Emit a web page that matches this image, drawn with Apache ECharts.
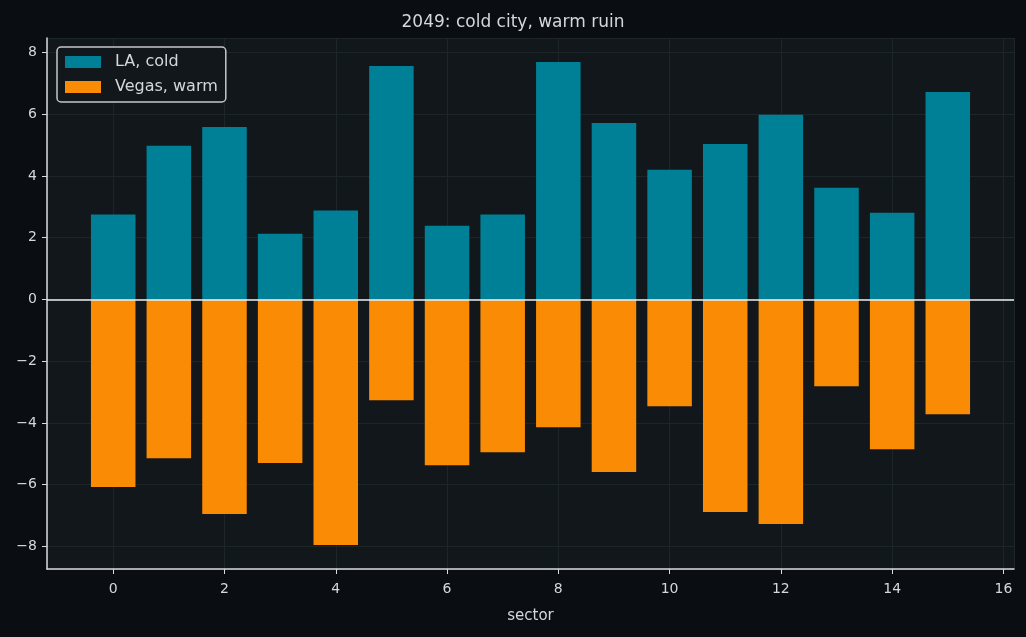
<!DOCTYPE html>
<html>
<head>
<meta charset="utf-8">
<title>2049: cold city, warm ruin</title>
<script src="https://cdn.jsdelivr.net/npm/echarts@6/dist/echarts.min.js"></script>
<style>
  html, body { margin: 0; padding: 0; background: #0a0e12; }
  #main { width: 1026px; height: 637px; }
</style>
</head>
<body>
<div id="main"></div>
<script>
// data
var sectors = [0, 1, 2, 3, 4, 5, 6, 7, 8, 9, 10, 11, 12, 13, 14, 15];
var laCold = [2.75, 4.98, 5.59, 2.13, 2.88, 7.56, 2.39, 2.75, 7.69, 5.72, 4.20, 5.04, 5.98, 3.62, 2.81, 6.72];
var vegasWarm = [-6.07, -5.14, -6.95, -5.30, -7.95, -3.26, -5.37, -4.95, -4.14, -5.59, -3.46, -6.88, -7.27, -2.81, -4.85, -3.72];

var textColor = '#d4d8da';
var fontFam = 'DejaVu Sans';

function pairs(vals) {
  return sectors.map(function (s, i) { return [s, vals[i]]; });
}

// bars are 0.8 wide in data units, drawn through the axes
function barItem(params, api) {
  var x = api.value(0), y = api.value(1);
  var p1 = api.coord([x - 0.4, y]);
  var p2 = api.coord([x + 0.4, 0]);
  return {
    type: 'rect',
    shape: {
      x: p1[0], y: Math.min(p1[1], p2[1]),
      width: p2[0] - p1[0], height: Math.abs(p2[1] - p1[1])
    },
    style: api.style()
  };
}

var myChart = echarts.init(document.getElementById('main'));

var option = {
  backgroundColor: '#0a0e12',
  animation: false,
  textStyle: { fontFamily: fontFam },
  title: {
    text: '2049: cold city, warm ruin',
    left: 'center',
    top: 9,
    textStyle: { color: textColor, fontSize: 17, fontWeight: 'normal', fontFamily: fontFam }
  },
  legend: {
    orient: 'vertical',
    left: 57,
    top: 47,
    itemWidth: 36,
    itemHeight: 12,
    itemGap: 9,
    padding: [7, 8, 7, 8],
    backgroundColor: '#12171b',
    borderColor: '#c4c8ca',
    borderWidth: 1.5,
    borderRadius: 4,
    icon: 'rect',
    textStyle: { color: textColor, fontSize: 16, fontFamily: fontFam, padding: [0, 0, 0, 9] },
    data: ['LA, cold', 'Vegas, warm']
  },
  grid: {
    left: 47, right: 12, top: 38, bottom: 68,
    show: true,
    backgroundColor: '#12171b',
    borderWidth: 0
  },
  xAxis: {
    type: 'value',
    min: -1.19,
    max: 16.19,
    splitNumber: 8,
    minInterval: 2,
    maxInterval: 2,
    name: 'sector',
    nameLocation: 'middle',
    nameGap: 40,
    nameTextStyle: { color: textColor, fontSize: 15, fontFamily: fontFam },
    axisLine: { onZero: false, lineStyle: { color: '#d8dcde', width: 1.5 } },
    axisTick: { show: true, length: 5, lineStyle: { color: '#d8dcde', width: 1 } },
    axisLabel: {
      color: textColor, fontSize: 14, margin: 13,
      showMinLabel: false, showMaxLabel: false,
      formatter: function (v) { return (Math.abs(v % 2) < 1e-9) ? String(v) : ''; }
    },
    splitLine: { show: true, lineStyle: { color: '#1c2628', width: 1 } }
  },
  yAxis: {
    type: 'value',
    min: -8.73,
    max: 8.47,
    splitNumber: 8,
    minInterval: 2,
    maxInterval: 2,
    axisLine: { show: true, onZero: false, lineStyle: { color: '#d8dcde', width: 1.5 } },
    axisTick: { show: true, length: 5, lineStyle: { color: '#d8dcde', width: 1 } },
    axisLabel: {
      color: textColor, fontSize: 14, margin: 10,
      showMinLabel: false, showMaxLabel: false,
      formatter: function (v) {
        if (Math.abs(v % 2) > 1e-9) return '';
        return v < 0 ? '\u2212' + Math.abs(v) : String(v);
      }
    },
    splitLine: { show: true, lineStyle: { color: '#1c2628', width: 1 } }
  },
  series: [
    {
      name: 'LA, cold',
      type: 'custom',
      renderItem: barItem,
      itemStyle: { color: '#008096' },
      encode: { x: 0, y: 1 },
      data: pairs(laCold),
      z: 2
    },
    {
      name: 'Vegas, warm',
      type: 'custom',
      renderItem: barItem,
      itemStyle: { color: '#f98b05' },
      encode: { x: 0, y: 1 },
      data: pairs(vegasWarm),
      z: 2,
      markLine: {
        silent: true,
        symbol: 'none',
        label: { show: false },
        lineStyle: { color: '#eef0f0', width: 1.5, type: 'solid' },
        data: [{ yAxis: 0 }],
        z: 5
      }
    }
  ]
};

myChart.setOption(option);
</script>
</body>
</html>
